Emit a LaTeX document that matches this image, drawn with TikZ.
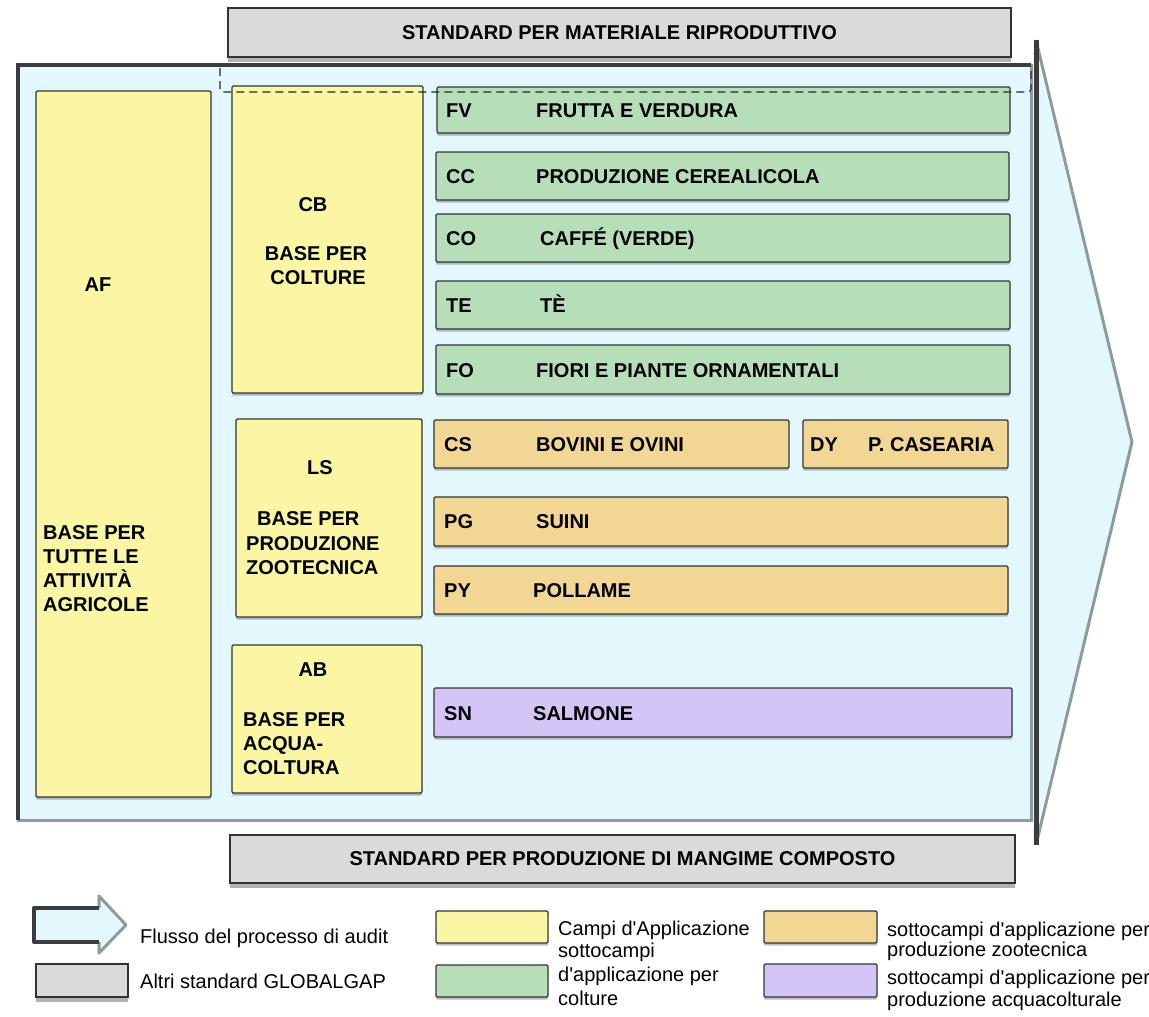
\documentclass[tikz,border=0pt]{standalone}
\usepackage{fontspec}
\setmainfont{Liberation Sans}[Ligatures=TeXOff]
\usetikzlibrary{shadows}
\definecolor{bgc}{HTML}{E2F8FC}
\definecolor{yel}{HTML}{FAF6A4}
\definecolor{grn}{HTML}{B6DFB9}
\definecolor{org}{HTML}{F2D794}
\definecolor{pur}{HTML}{D4C5F7}
\definecolor{gry}{HTML}{D9DADA}
\definecolor{arrline}{HTML}{8C9C9C}
\definecolor{darkl}{HTML}{3C3C3C}
\definecolor{boxline}{HTML}{333333}
\newcommand\rbox[6]{\node[#2, minimum width={(#5)-(#3)}, minimum height={(#6)-(#4)}] (#1) at ({((#3)+(#5))/2},{((#4)+(#6))/2}) {};}
\newcommand\lbl[4]{\node[lab] (#1) at (#2,{(#3)+7.2}) {#4};}
\newcommand\ltx[4]{\node[ltxt] (#1) at (#2,#3) {#4};}
\begin{document}
\begin{tikzpicture}[x=1pt,y=-1pt,
  box/.style={draw=boxline, line width=1.3pt, rounded corners=1.2pt, inner sep=0pt, outer sep=0pt,
    drop shadow={shadow xshift=0pt, shadow yshift=-2.5pt, opacity=0.25, fill=black}},
  ybox/.style={box, fill=yel},
  gnbox/.style={box, fill=grn},
  obox/.style={box, fill=org},
  pbox/.style={box, fill=pur},
  gbox/.style={draw=boxline, line width=1.5pt, fill=gry, inner sep=0pt, outer sep=0pt,
    drop shadow={shadow xshift=0pt, shadow yshift=-5pt, opacity=0.3, fill=black}},
  mainst/.style={draw=arrline, line width=3pt, fill=bgc, inner sep=0pt, outer sep=0pt},
  lab/.style={font=\bfseries\fontsize{20}{24}\selectfont, inner sep=0pt, anchor=base west},
  ltxt/.style={font=\fontsize{20}{24}\selectfont, inner sep=0pt, anchor=base west},
  dashl/.style={draw=black!85, line width=1.2pt, dash pattern=on 8pt off 5pt},
]
\useasboundingbox (0,0) rectangle (1149,1017);

% ---- big process arrow ----
\fill[bgc] (1033,40) -- (1132,442) -- (1033,845) -- cycle;
\draw[arrline, line width=3pt, line join=round] (1036,40) -- (1132,442) -- (1036,845);
\rbox{main}{mainst}{18}{65}{1031}{820}
\draw[darkl, line width=4pt] (main.south west) -- (main.north west) -- (main.north east);
\draw[darkl, line width=5pt] (1036,40) -- (1036,845);

% ---- standards ----
\rbox{top}{gbox}{228}{8}{1011}{57}
\node[lab, anchor=center] (toptxt) at (top.center) {STANDARD PER MATERIALE RIPRODUTTIVO};
\rbox{bot}{gbox}{230}{835}{1015}{883}
\node[lab, anchor=center] (bottxt) at (bot.center) {STANDARD PER PRODUZIONE DI MANGIME COMPOSTO};

% ---- base boxes ----
\rbox{af}{ybox}{36}{91}{211}{797}
\node[lab, anchor=center] (afc) at (98,285) {AF};
\lbl{af1}{43}{532}{BASE PER}
\lbl{af2}{43}{556}{TUTTE LE}
\lbl{af3}{43}{580}{ATTIVITÀ}
\lbl{af4}{43}{604}{AGRICOLE}

\rbox{cb}{ybox}{232}{86}{423}{393}
\node[lab, anchor=center] (cbc) at (313,205) {CB};
\node[lab, anchor=center] (cb1) at (316,254) {BASE PER};
\node[lab, anchor=center] (cb2) at (318,278) {COLTURE};

\rbox{ls}{ybox}{236}{419}{422}{617}
\node[lab, anchor=center] (lsc) at (320,468) {LS};
\lbl{ls1}{257}{518}{BASE PER}
\lbl{ls2}{246}{543}{PRODUZIONE}
\lbl{ls3}{246}{567}{ZOOTECNICA}

\rbox{ab}{ybox}{232}{645}{422}{793}
\node[lab, anchor=center] (abc) at (313,670) {AB};
\lbl{ab1}{243}{719}{BASE PER}
\lbl{ab2}{243}{743}{ACQUA-}
\lbl{ab3}{243}{767}{COLTURA}

% ---- crop sub-scopes ----
\rbox{fv}{gnbox}{437}{87}{1010}{133}
\lbl{fvc}{446}{110}{FV}
\lbl{fvn}{536}{110}{FRUTTA E VERDURA}
\rbox{cc}{gnbox}{436}{152}{1009}{200}
\lbl{ccc}{446}{176}{CC}
\lbl{ccn}{536}{176}{PRODUZIONE CEREALICOLA}
\rbox{co}{gnbox}{436}{214}{1010}{262}
\lbl{coc}{446}{238}{CO}
\lbl{con}{540}{238}{CAFFÉ (VERDE)}
\rbox{te}{gnbox}{436}{281}{1010}{329}
\lbl{tec}{446}{305}{TE}
\lbl{ten}{540}{305}{TÈ}
\rbox{fo}{gnbox}{436}{345}{1010}{394}
\lbl{foc}{446}{370}{FO}
\lbl{fon}{536}{370}{FIORI E PIANTE ORNAMENTALI}

% ---- livestock sub-scopes ----
\rbox{cs}{obox}{434}{420}{789}{468}
\lbl{csc}{444}{444}{CS}
\lbl{csn}{536}{444}{BOVINI E OVINI}
\rbox{dy}{obox}{803}{420}{1008}{468}
\lbl{dyc}{810}{444}{DY}
\lbl{dyn}{868}{444}{P. CASEARIA}
\rbox{pg}{obox}{434}{497}{1008}{546}
\lbl{pgc}{444}{521}{PG}
\lbl{pgn}{536}{521}{SUINI}
\rbox{py}{obox}{434}{566}{1008}{614}
\lbl{pyc}{444}{590}{PY}
\lbl{pyn}{533}{590}{POLLAME}

% ---- aquaculture ----
\rbox{sn}{pbox}{434}{688}{1012}{737}
\lbl{snc}{444}{713}{SN}
\lbl{snn}{533}{713}{SALMONE}

% ---- dashed frame ----
\draw[dashl, rounded corners=3pt] (220,68) -- (220,92) -- (1031,92) -- (1031,68);

% ---- legend ----
\fill[bgc] (33,908) rectangle (100,942);
\fill[bgc] (97,895) -- (127,925) -- (97,954) -- cycle;
\draw[arrline, line width=3pt, line join=round] (99,908) -- (99,896) -- (126,925) -- (99,953) -- (99,942);
\draw[darkl, line width=4pt, line join=round] (99,908) -- (34,908) -- (34,942) -- (99,942);
\ltx{lg1}{140}{943}{Flusso del processo di audit}

\rbox{lgg}{gbox}{36}{964}{128}{997}
\ltx{lg2}{140}{988}{Altri standard GLOBALGAP}

\rbox{lgy}{ybox}{436}{911}{548}{943}
\ltx{lg3}{558}{935}{Campi d'Applicazione}
\rbox{lgn}{gnbox}{436}{965}{548}{997}
\ltx{lg4a}{558}{957}{sottocampi}
\ltx{lg4b}{558}{981}{d'applicazione per}
\ltx{lg4c}{558}{1005}{colture}

\rbox{lgo}{obox}{764}{911}{877}{943}
\ltx{lg5a}{887}{936}{sottocampi d'applicazione per}
\ltx{lg5b}{887}{956}{produzione zootecnica}
\rbox{lgp}{pbox}{764}{964}{877}{997}
\ltx{lg6a}{887}{984}{sottocampi d'applicazione per}
\ltx{lg6b}{887}{1006}{produzione acquacolturale}
\end{tikzpicture}
\end{document}
